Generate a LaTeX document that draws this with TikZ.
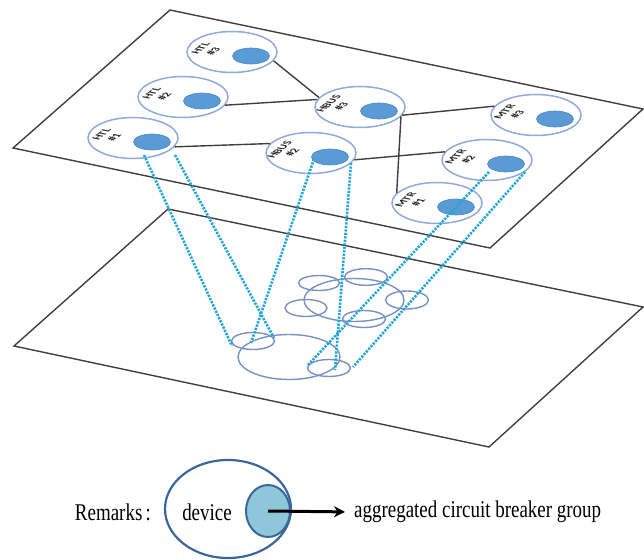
\documentclass[tikz,border=0pt]{standalone}
\usepackage{fontspec}
\setmainfont{Liberation Serif}
\newfontfamily\lblfont{Carlito}
\usetikzlibrary{shapes.geometric,arrows.meta,calc}
\definecolor{planeline}{HTML}{3F3F3F}
\definecolor{nodeline}{HTML}{8FAADC}
\definecolor{cbfill}{HTML}{5B9BD5}
\definecolor{cbline}{HTML}{4A86C5}
\definecolor{dashc}{HTML}{22A5D8}
\definecolor{ringc}{HTML}{7890C2}
\definecolor{legline}{HTML}{3A6699}
\definecolor{legfill}{HTML}{8DC7D9}
\tikzset{
  plane/.style={draw=planeline, line width=1.4pt, line join=miter},
  dev/.style={ellipse, draw=nodeline, line width=1.5pt, fill=white, minimum width=90pt, minimum height=41pt, inner sep=0pt},
  cb/.style={ellipse, fill=cbfill, draw=cbline, line width=0.6pt, minimum width=37pt, minimum height=16pt, inner sep=0pt},
  lbl/.style={font=\lblfont\bfseries\fontsize{11}{13}\selectfont, text=black!85, align=center, inner sep=0pt, transform shape},
  link/.style={draw=planeline, line width=1.4pt},
  proj/.style={draw=dashc, line width=2.6pt, dash pattern=on 2.2pt off 1.3pt},
  ring/.style={ellipse, draw=ringc, line width=1.4pt, inner sep=0pt},
  legtxt/.style={inner sep=0pt, font=\fontsize{24}{26}\selectfont}
}
\newcommand\devnode[5]{%
  \node[dev] (#1) at (#2,#3) {};
  \node[cb] (#1cb) at ($(#1)+(19,4)$) {};
  \begin{scope}[shift={($(#1)+(-25,-2)$)}, cm={0.755,0.656,-0.979,0.205,(0,0)}]
    \node[lbl] (#1t) at (0,0) {#4\\#5};
  \end{scope}}
\begin{document}
\begin{tikzpicture}[x=1pt, y=-1pt]
\useasboundingbox (0,0) rectangle (644,559);
% planes
\draw[plane] (168,209) -- (643,307) -- (489,447) -- (14,346) -- cycle;
\draw[plane] (170,10) -- (643,109) -- (490,248) -- (13,148) -- cycle;
% rings in lower plane
\node[ring, minimum width=41pt, minimum height=15pt] (r1) at (319,283) {};
\node[ring, minimum width=43pt, minimum height=16.6pt] (r2) at (366,277) {};
\node[ring, minimum width=100pt, minimum height=43pt] (r3) at (354,300) {};
\node[ring, minimum width=42pt, minimum height=17pt] (r4) at (306,308) {};
\node[ring, minimum width=43pt, minimum height=18pt] (r5) at (407,300) {};
\node[ring, minimum width=43pt, minimum height=17pt] (r6) at (364,319) {};
\node[ring, minimum width=102pt, minimum height=45pt] (g0) at (289,357) {};
\node[ring, minimum width=43pt, minimum height=17pt] (g1) at (253,341) {};
\node[ring, minimum width=43pt, minimum height=17pt] (g2) at (329,368) {};
% devices
\devnode{HTLc}{232}{52}{HTL}{\#3}
\devnode{HTLb}{183}{97}{HTL}{\#2}
\devnode{HTLa}{133}{138}{HTL}{\#1}
\devnode{HBUSc}{360}{107}{HBUS}{\#3}
\devnode{MTRc}{536}{115}{MTR}{\#3}
\devnode{HBUSb}{311}{153}{HBUS}{\#2}
\devnode{MTRb}{487}{160}{MTR}{\#2}
\devnode{MTRa}{437}{203}{MTR}{\#1}
% links
\draw[link] (HTLc.-12) -- (HBUSc.167);
\draw[link] (HTLb.-11) -- (HBUSc.170);
\draw[link] (HTLa.-12) -- (HBUSb.167);
\draw[link] (HBUSc.-11) -- (MTRc.168);
\draw[link] (HBUSb.-9) -- (MTRb.169);
\draw[link] (HBUSc.-13) -- (MTRa.166);
% projection lines
\coordinate (t1) at (144,155); \coordinate (b1) at (232,346);
\coordinate (t2) at (175,155); \coordinate (b2) at (274,338);
\coordinate (t3) at (314,159); \coordinate (b3) at (251,343);
\coordinate (t4) at (351,163); \coordinate (b4) at (335,370);
\coordinate (t5) at (489,172); \coordinate (b5) at (308,365);
\coordinate (t6) at (525,172); \coordinate (b6) at (353,367);
\foreach \i in {1,...,6} {\draw[proj] (t\i) -- (b\i);}
% legend
\node[ellipse, draw=legline, line width=2.2pt, minimum width=126pt, minimum height=98pt, inner sep=0pt] (legdev) at (228,509) {};
\node[ellipse, draw=legline, fill=legfill, line width=2pt, minimum width=44pt, minimum height=52pt, inner sep=0pt] (legcb) at (268,511) {};
\node[legtxt] (devtxt) at (207,512) {\scalebox{0.79}[1]{device}};
\node[legtxt, anchor=east] (rem) at (151,512) {\scalebox{0.79}[1]{Remarks\,:}};
\node[legtxt, anchor=west] (agg) at (354,512) {\scalebox{0.79}[1]{aggregated circuit breaker group}};
\draw[-{Stealth[length=11pt,width=11pt]}, line width=3pt, shorten >=9pt] (legcb.center) -- (agg.west);
\end{tikzpicture}
\end{document}
